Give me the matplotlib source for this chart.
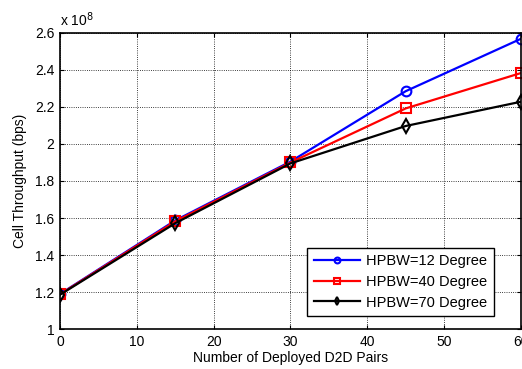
import numpy as np
import matplotlib
matplotlib.use('Agg')
import matplotlib.pyplot as plt
from matplotlib.ticker import FuncFormatter

plt.rcParams['font.family'] = ['Liberation Sans', 'DejaVu Sans']

# data (cell throughput in units of 1e8 bps)
d2d_pairs = [0, 15, 30, 45, 60]
hpbw_12 = [1.19, 1.587, 1.905, 2.285, 2.568]
hpbw_40 = [1.188, 1.582, 1.900, 2.192, 2.383]
hpbw_70 = [1.186, 1.572, 1.895, 2.097, 2.228]
labels = ['HPBW=12 Degree', 'HPBW=40 Degree', 'HPBW=70 Degree']

fig = plt.figure(figsize=(5.22, 3.69), dpi=100)
ax = fig.add_axes([0.115, 0.108, 0.883, 0.803])

ax.plot(d2d_pairs, hpbw_12, '-o', color='#0000ff', lw=1.6, ms=7,
        mfc='none', mew=1.5, label=labels[0])
ax.plot(d2d_pairs, hpbw_40, '-s', color='#ff0000', lw=1.6, ms=7,
        mfc='none', mew=1.5, label=labels[1])
ax.plot(d2d_pairs, hpbw_70, '-d', color='#000000', lw=1.6, ms=7,
        mfc='none', mew=1.5, label=labels[2])

ax.set_xlim(0, 60)
ax.set_ylim(1, 2.6)
ax.set_xticks(np.arange(0, 61, 10))
ax.set_yticks(np.arange(1, 2.61, 0.2))
ax.yaxis.set_major_formatter(FuncFormatter(lambda v, p: '%g' % round(v, 2)))
ax.tick_params(direction='in', labelsize=10, length=3, width=0.8,
               top=True, right=True, pad=4)
ax.grid(True, linestyle=':', color='black', linewidth=0.6)
for s in ax.spines.values():
    s.set_linewidth(1.2)

ax.set_xlabel('Number of Deployed D2D Pairs', fontsize=10, labelpad=2)
ax.set_ylabel('Cell Throughput (bps)', fontsize=10, labelpad=6)
ax.text(0.0, 1.012, r'x 10$^{8}$', transform=ax.transAxes, fontsize=10,
        ha='left', va='bottom')

leg = ax.legend(loc='lower right', bbox_to_anchor=(0.941, 0.044), fontsize=10.5,
                fancybox=False, edgecolor='black', framealpha=1,
                borderaxespad=0, markerscale=0.6,
                handlelength=3.2, handletextpad=0.4, borderpad=0.45,
                labelspacing=0.45)
leg.get_frame().set_linewidth(1.0)

fig.savefig('out.png', dpi=100)
